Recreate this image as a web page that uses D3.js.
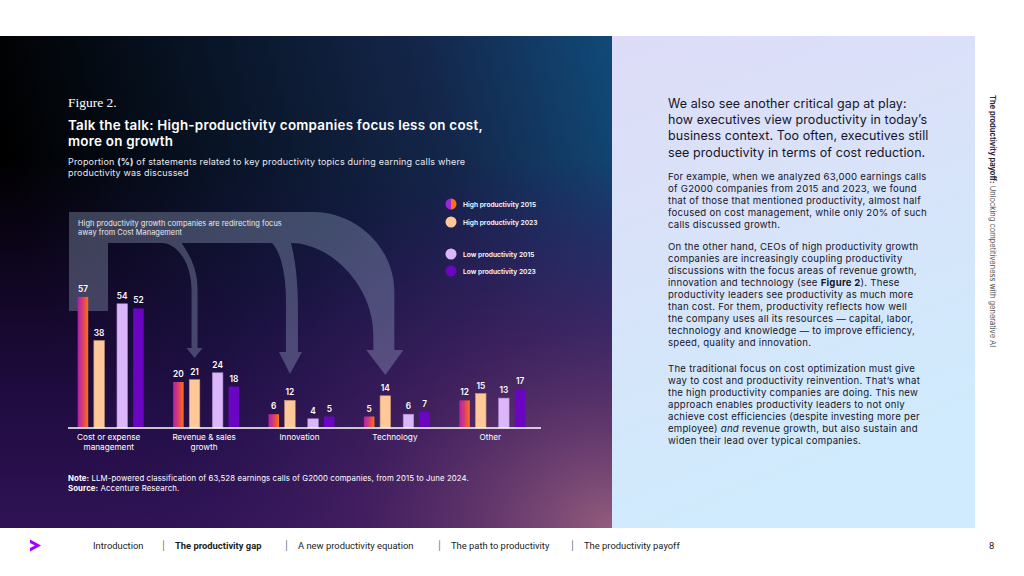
<!DOCTYPE html>
<html>
<head>
<meta charset="utf-8">
<script src="https://cdn.jsdelivr.net/npm/d3@7"></script>
<style>
  html, body { margin: 0; padding: 0; background: #fff; }
  svg { display: block; font-family: Inter, "Noto Sans", sans-serif; }
</style>
</head>
<body>
<div id="page"></div>
<script>
// Figure 2 — productivity topics in earnings calls, grouped bars.

var categories = ['Cost or expense management', 'Revenue & sales growth', 'Innovation', 'Technology', 'Other'];
var categoryLines = [['Cost or expense', 'management'], ['Revenue & sales', 'growth'], ['Innovation'], ['Technology'], ['Other']];
var seriesKeys = ['high2015', 'high2023', 'low2015', 'low2023'];
var seriesNames = ['High productivity 2015', 'High productivity 2023', 'Low productivity 2015', 'Low productivity 2023'];
var high2015 = [57, 20, 6, 5, 12];
var high2023 = [38, 21, 12, 14, 15];
var low2015 = [54, 24, 4, 6, 13];
var low2023 = [52, 18, 5, 7, 17];
var seriesValues = { high2015: high2015, high2023: high2023, low2015: low2015, low2023: low2023 };

var W = 1024, H = 576;
var svg = d3.select('#page').append('svg').attr('width', W).attr('height', H);
var defs = svg.append('defs');

function linGrad(id, x1, y1, x2, y2, stops) {
  var g = defs.append('linearGradient').attr('id', id)
    .attr('x1', x1).attr('y1', y1).attr('x2', x2).attr('y2', y2);
  stops.forEach(function(s) {
    g.append('stop').attr('offset', s[0]).attr('stop-color', s[1]).attr('stop-opacity', s[2] == null ? 1 : s[2]);
  });
  return g;
}

linGrad('bgBase', '0', '0.2', '1', '0', [[0, '#000000'], [0.35, '#081426'], [0.7, '#14264a'], [1, '#104a78']]);
linGrad('bgPurple', '0', '0', '0', '1', [[0.25, '#2a1060', 0], [0.75, '#2c1058', 0.75], [1, '#32145a', 0.95]]);
var rg = defs.append('radialGradient').attr('id', 'bgPink')
  .attr('cx', '1').attr('cy', '1').attr('r', '0.75');
rg.append('stop').attr('offset', 0).attr('stop-color', '#98607e').attr('stop-opacity', 0.95);
rg.append('stop').attr('offset', 0.55).attr('stop-color', '#5a2a6a').attr('stop-opacity', 0.45);
rg.append('stop').attr('offset', 1).attr('stop-color', '#3a1a60').attr('stop-opacity', 0);
linGrad('lightPanel', '0', '0', '0.3', '1', [[0, '#dedcf7'], [0.4, '#d9e2f8'], [1, '#cfebfd']]);
linGrad('barHigh15', '0', '0', '1', '0', [[0, '#b01fb0'], [0.5, '#d8406a'], [1, '#ff7010']]);
linGrad('dotHigh15', '0', '0', '1', '0', [[0, '#9a22e6'], [0.5, '#a02ad0'], [0.5, '#ff6e10'], [1, '#ff6e10']]);

// page panels
svg.append('rect').attr('x', 0).attr('y', 36).attr('width', 612).attr('height', 492).attr('fill', 'url(#bgBase)');
svg.append('rect').attr('x', 0).attr('y', 36).attr('width', 612).attr('height', 492).attr('fill', 'url(#bgPurple)');
svg.append('rect').attr('x', 0).attr('y', 36).attr('width', 612).attr('height', 492).attr('fill', 'url(#bgPink)');
svg.append('rect').attr('x', 612).attr('y', 36).attr('width', 363).attr('height', 492).attr('fill', 'url(#lightPanel)');

// scales
var BASE_Y = 428;
var x0 = d3.scaleBand().domain(categories).range([63, 540]);
var pairScale = d3.scaleBand().domain(['high', 'low']).range([-33, 33]).paddingInner(0.32);
var yearScale = d3.scaleBand().domain(['2015', '2023']).range([0, pairScale.bandwidth()]).paddingInner(0.35);
var y = d3.scaleLinear().domain([0, 60]).range([BASE_Y, BASE_Y - 60 * 2.3]);

function barX(cat, key) {
  var pair = key.indexOf('high') === 0 ? 'high' : 'low';
  var year = key.slice(-4);
  return x0(cat) + x0.bandwidth() / 2 + pairScale(pair) + yearScale(year);
}
var BW = yearScale.bandwidth();

var fills = { high2015: 'url(#barHigh15)', high2023: '#ffc898', low2015: '#dcb6fa', low2023: '#6a06c2' };
var strokes = { high2015: 'none', high2023: '#c89a7a', low2015: '#a98cc8', low2023: 'none' };

// redirect arrows (pointing at the High productivity 2023 bars)
function tipX(ci) { return barX(categories[ci], 'high2023') + BW / 2; }
var t1 = tipX(1), t2 = tipX(2), t3 = tipX(3);
var BAND_TOP = 212, BAND_BOT = 243;
var arrowPath = [
  'M69,' + BAND_TOP, 'L313,' + BAND_TOP,
  'C357,' + BAND_TOP + ' ' + (t3 + 9) + ',248 ' + (t3 + 9) + ',292',
  'L' + (t3 + 9) + ',350', 'L' + (t3 + 18) + ',350', 'L' + t3 + ',375', 'L' + (t3 - 19) + ',350', 'L' + (t3 - 12) + ',350',
  'L' + (t3 - 12) + ',335',
  'C' + (t3 - 12) + ',285 ' + (t2 + 40) + ',' + BAND_BOT + ' ' + (t2 + 1) + ',' + BAND_BOT,
  'C' + (t2 + 6) + ',262 ' + (t2 + 8) + ',285 ' + (t2 + 8) + ',308',
  'L' + (t2 + 8) + ',352', 'L' + (t2 + 12) + ',352', 'L' + t2 + ',374', 'L' + (t2 - 11) + ',352', 'L' + (t2 - 4) + ',352',
  'L' + (t2 - 4) + ',300',
  'C' + (t2 - 4) + ',275 ' + (t2 - 9) + ',252 ' + (t2 - 18) + ',' + BAND_BOT,
  'L' + (t1 - 13) + ',' + BAND_BOT,
  'C' + (t1 - 5) + ',255 ' + (t1 + 3) + ',268 ' + (t1 + 3) + ',290',
  'L' + (t1 + 3) + ',348', 'L' + (t1 + 8) + ',348', 'L' + t1 + ',358', 'L' + (t1 - 8) + ',348', 'L' + (t1 - 3) + ',348',
  'L' + (t1 - 3) + ',290',
  'C' + (t1 - 3) + ',262 ' + (t1 - 18) + ',' + BAND_BOT + ' ' + (t1 - 33) + ',' + BAND_BOT,
  'L108,' + BAND_BOT, 'L108,311', 'L69,311', 'Z'
].join(' ');
svg.append('g').attr('opacity', 0.3)
  .append('path').attr('d', arrowPath).attr('fill', '#b4c6e0');

svg.append('text').attr('x', 78).attr('y', 226).attr('fill', '#e8ecf4').attr('font-size', '7.4px')
  .attr('letter-spacing', '0.05px')
  .selectAll('tspan').data(['High productivity growth companies are redirecting focus', 'away from Cost Management'])
  .join('tspan').attr('x', 78).attr('dy', function(d, i) { return i ? 9 : 0; }).text(function(d) { return d; });

// bars
categories.forEach(function(cat, ci) {
  seriesKeys.forEach(function(key) {
    var v = seriesValues[key][ci];
    svg.append('rect')
      .attr('x', barX(cat, key))
      .attr('y', y(v))
      .attr('width', BW)
      .attr('height', BASE_Y - y(v))
      .attr('fill', fills[key])
      .attr('stroke', strokes[key])
      .attr('stroke-width', 0.6);
    svg.append('text')
      .attr('x', barX(cat, key) + BW / 2)
      .attr('y', y(v) - 5)
      .attr('text-anchor', 'middle')
      .attr('fill', '#ffffff')
      .attr('font-size', '8.3px')
      .attr('font-weight', 600)
      .text(v);
  });
});

svg.append('line').attr('x1', 68).attr('x2', 541).attr('y1', BASE_Y).attr('y2', BASE_Y)
  .attr('stroke', '#ffffff').attr('stroke-width', 1.3);

categories.forEach(function(cat, ci) {
  svg.append('text').attr('y', 440).attr('text-anchor', 'middle').attr('fill', '#ffffff').attr('font-size', '8.2px')
    .selectAll('tspan').data(categoryLines[ci]).join('tspan')
    .attr('x', x0(cat) + x0.bandwidth() / 2 - 2)
    .attr('dy', function(d, i) { return i ? 10 : 0; })
    .text(function(d) { return d; });
});

// legend
var legendY = [204, 222, 254, 271];
var legendFill = { high2015: 'url(#dotHigh15)', high2023: '#ffc898', low2015: '#dcb6fa', low2023: '#6a06c2' };
seriesKeys.forEach(function(key, i) {
  svg.append('circle').attr('cx', 451).attr('cy', legendY[i]).attr('r', 5.5).attr('fill', legendFill[key]);
  svg.append('text').attr('x', 463).attr('y', legendY[i] + 2.5).attr('fill', '#ffffff')
    .attr('font-size', '6.7px').attr('font-weight', 600).text(seriesNames[i]);
});

// titles
svg.append('text').attr('x', 68).attr('y', 107).attr('fill', '#ffffff')
  .attr('font-family', '"Liberation Serif", "DejaVu Serif", serif').attr('font-size', '13.5px').text('Figure 2.');
svg.append('text').attr('y', 130).attr('fill', '#ffffff').attr('font-size', '13.4px').attr('font-weight', 600)
  .attr('letter-spacing', '0.25px')
  .selectAll('tspan').data(['Talk the talk: High-productivity companies focus less on cost,', 'more on growth'])
  .join('tspan').attr('x', 68).attr('dy', function(d, i) { return i ? 16 : 0; }).text(function(d) { return d; });
var sub = svg.append('text').attr('x', 68).attr('y', 165).attr('fill', '#e6e9f0').attr('font-size', '9px')
  .attr('letter-spacing', '0.18px');
sub.append('tspan').text('Proportion ');
sub.append('tspan').attr('font-weight', 700).text('(%)');
sub.append('tspan').text(' of statements related to key productivity topics during earning calls where');
svg.append('text').attr('x', 68).attr('y', 176).attr('fill', '#e6e9f0').attr('font-size', '9px')
  .attr('letter-spacing', '0.18px').text('productivity was discussed');

// note
var note = svg.append('text').attr('x', 68).attr('y', 481).attr('fill', '#ffffff').attr('font-size', '7.8px')
  .attr('letter-spacing', '0.1px');
note.append('tspan').attr('font-weight', 700).text('Note:');
note.append('tspan').text(' LLM-powered classification of 63,528 earnings calls of G2000 companies, from 2015 to June 2024.');
var src = svg.append('text').attr('x', 68).attr('y', 491).attr('fill', '#ffffff').attr('font-size', '7.8px')
  .attr('letter-spacing', '0.1px');
src.append('tspan').attr('font-weight', 700).text('Source:');
src.append('tspan').text(' Accenture Research.');

// right panel copy
var TEXT_X = 668, INK = '#15152a';
function para(lines, y0, size, lh, ls) {
  var t = svg.append('text').attr('fill', INK).attr('font-size', size + 'px').attr('letter-spacing', ls + 'px');
  lines.forEach(function(line, i) {
    var row = t.append('tspan').attr('x', TEXT_X).attr('y', y0 + i * lh);
    line.forEach(function(part) {
      var sp = row.append('tspan').text(part.t || part);
      if (part.b) sp.attr('font-weight', 700);
      if (part.i) sp.attr('font-style', 'italic');
    });
  });
}
para([['We also see another critical gap at play:'], ['how executives view productivity in today\u2019s'],
  ['business context. Too often, executives still'], ['see productivity in terms of cost reduction.']], 108, 12.5, 16.2, 0.08);
para([['For example, when we analyzed 63,000 earnings calls'], ['of G2000 companies from 2015 and 2023, we found'],
  ['that of those that mentioned productivity, almost half'], ['focused on cost management, while only 20% of such'],
  ['calls discussed growth.']], 180, 9.6, 12, 0.25);
para([['On the other hand, CEOs of high productivity growth'], ['companies are increasingly coupling productivity'],
  ['discussions with the focus areas of revenue growth,'],
  ['innovation and technology (see ', { t: 'Figure 2', b: true }, '). These'],
  ['productivity leaders see productivity as much more'], ['than cost. For them, productivity reflects how well'],
  ['the company uses all its resources \u2014 capital, labor,'], ['technology and knowledge \u2014 to improve efficiency,'],
  ['speed, quality and innovation.']], 250, 9.6, 12, 0.25);
para([['The traditional focus on cost optimization must give'], ['way to cost and productivity reinvention. That\u2019s what'],
  ['the high productivity companies are doing. This new'], ['approach enables productivity leaders to not only'],
  ['achieve cost efficiencies (despite investing more per'],
  ['employee) ', { t: 'and', i: true }, ' revenue growth, but also sustain and'],
  ['widen their lead over typical companies.']], 372, 9.6, 12, 0.25);

// running head (vertical)
var vt = svg.append('text').attr('transform', 'translate(990,95) rotate(90)').attr('fill', '#2a2a3a').attr('font-size', '7.5px');
vt.append('tspan').attr('font-weight', 700).text('The productivity payoff:');
vt.append('tspan').attr('fill', '#555').text(' Unlocking competitiveness with generative AI');

// footer
svg.append('path').attr('d', 'M30,539.5 L41,545.5 L30,551.5 L30,548 L35,545.5 L30,543 Z').attr('fill', '#a100ff');
var navItems = ['Introduction', 'The productivity gap', 'A new productivity equation', 'The path to productivity', 'The productivity payoff'];
var navX = [93, 175, 298, 451, 584];
var sepX = [162, 285, 438, 571];
navItems.forEach(function(item, i) {
  svg.append('text').attr('x', navX[i]).attr('y', 549).attr('fill', '#222').attr('font-size', '9.4px')
    .attr('font-family', 'Roboto, sans-serif').attr('font-weight', i === 1 ? 700 : 400).text(item);
});
sepX.forEach(function(sx) {
  svg.append('text').attr('x', sx).attr('y', 549).attr('fill', '#666').attr('font-size', '9px').text('|');
});
svg.append('text').attr('x', 989).attr('y', 549).attr('fill', '#222').attr('font-size', '9.4px')
  .attr('font-family', 'Roboto, sans-serif').text('8');
</script>
</body>
</html>
